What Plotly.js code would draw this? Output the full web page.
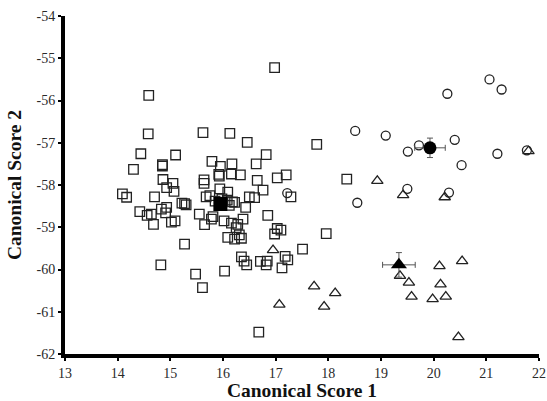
<!DOCTYPE html>
<html>
<head>
<meta charset="utf-8">
<script src="https://cdn.plot.ly/plotly-3.0.1.min.js"></script>
<style>html,body{margin:0;padding:0;background:#fff;}#chart{width:547px;height:401px;}</style>
</head>
<body>
<div id="chart"></div>
<script>
// Group 1 (open squares)
const squaresX = [16.98,14.59,14.58,15.62,16.13,16.46,17.78,14.44,15.10,14.30,14.85,14.85,15.79,15.95,16.17,16.63,16.82,15.92,15.93,16.16,16.33,16.65,17.03,17.20,14.86,15.05,15.07,14.93,15.64,15.64,15.94,16.09,16.50,16.76,15.75,14.70,17.29,18.35,16.43,16.22,15.27,15.22,15.30,14.83,14.93,14.91,14.64,14.68,14.42,14.09,14.17,15.02,15.09,15.55,15.81,15.78,15.65,16.02,16.16,16.28,16.38,16.85,17.03,17.10,16.98,15.27,16.09,16.22,16.31,16.35,16.25,17.96,17.51,17.18,17.23,17.12,16.35,16.40,16.45,16.71,16.84,16.82,15.48,15.61,16.03,14.82,16.68,16.08,16.18,15.85,15.98,16.12,15.68,16.60,14.56];
const squaresY = [-55.22,-55.88,-56.79,-56.76,-56.78,-56.99,-57.04,-57.26,-57.29,-57.63,-57.52,-57.55,-57.44,-57.56,-57.50,-57.50,-57.28,-57.75,-57.79,-57.74,-57.76,-57.89,-57.83,-57.76,-57.87,-57.96,-58.15,-58.06,-57.88,-57.96,-58.09,-58.17,-58.28,-58.12,-58.25,-58.28,-58.28,-57.86,-58.53,-58.41,-58.44,-58.43,-58.47,-58.57,-58.53,-58.66,-58.69,-58.93,-58.63,-58.21,-58.29,-58.88,-58.85,-58.69,-58.75,-58.81,-58.94,-58.85,-58.90,-58.93,-58.81,-58.72,-59.03,-59.07,-59.16,-59.40,-59.24,-59.28,-59.18,-59.26,-59.01,-59.15,-59.52,-59.69,-59.77,-59.96,-59.70,-59.80,-59.89,-59.81,-59.80,-59.89,-60.11,-60.43,-60.04,-59.89,-61.48,-58.36,-58.40,-58.38,-58.33,-58.48,-58.28,-58.30,-58.72];
// Group 2 (open circles)
const circlesX = [18.51,19.09,19.51,19.72,20.26,20.40,21.06,21.29,21.21,20.53,21.77,19.50,20.29,17.22,18.55];
const circlesY = [-56.72,-56.83,-57.21,-57.06,-55.84,-56.93,-55.50,-55.74,-57.26,-57.53,-57.18,-58.09,-58.18,-58.19,-58.42];
// Group 3 (open triangles)
const trianglesX = [18.93,19.42,20.21,21.80,16.95,19.36,19.53,20.11,20.54,20.13,19.58,19.98,20.23,17.73,18.13,17.92,17.07,20.47];
const trianglesY = [-57.90,-58.24,-58.29,-57.20,-59.54,-60.15,-60.31,-59.92,-59.80,-60.35,-60.64,-60.70,-60.64,-60.40,-60.56,-60.88,-60.83,-61.60];
// Group means with error bars
const meanSquare = {x: [15.95], y: [-58.45]};
const meanCircle = {x: [19.93], y: [-57.12], ex: [0.29], ey: [0.23]};
const meanTriangle = {x: [19.34], y: [-59.89], ex: [0.31], ey: [0.29]};
const xTicks = [13,14,15,16,17,18,19,20,21,22];
const yTicks = [-62,-61,-60,-59,-58,-57,-56,-55,-54];

const edge = '#222';
const traces = [
  {type:'scatter', mode:'markers', x:squaresX, y:squaresY, cliponaxis:false,
   marker:{symbol:'square-open', size:9.5, color:edge, line:{width:1.3, color:edge}}},
  {type:'scatter', mode:'markers', x:circlesX, y:circlesY, cliponaxis:false,
   marker:{symbol:'circle-open', size:9, color:edge, line:{width:1.3, color:edge}}},
  {type:'scatter', mode:'markers', x:trianglesX, y:trianglesY, cliponaxis:false,
   marker:{symbol:'triangle-up-open', size:10, color:edge, line:{width:1.3, color:edge}}},
  {type:'scatter', mode:'markers', x:meanSquare.x, y:meanSquare.y,
   marker:{symbol:'square', size:14, color:'#000'}},
  {type:'scatter', mode:'markers', x:meanCircle.x, y:meanCircle.y,
   error_x:{type:'data', array:meanCircle.ex, color:'#555', thickness:1, width:3},
   error_y:{type:'data', array:meanCircle.ey, color:'#555', thickness:1, width:3},
   marker:{symbol:'circle', size:13, color:'#000'}},
  {type:'scatter', mode:'markers', x:meanTriangle.x, y:meanTriangle.y,
   error_x:{type:'data', array:meanTriangle.ex, color:'#555', thickness:1, width:3},
   error_y:{type:'data', array:meanTriangle.ey, color:'#555', thickness:1, width:3},
   marker:{symbol:'triangle-up', size:14, color:'#000'}}
];

const tickFont = {family:'Liberation Serif, Times New Roman, serif', size:14, color:'#2a2a2a'};
const titleFont = {family:'Liberation Serif, Times New Roman, serif', size:19.5, color:'#111', weight:'bold'};

const layout = {
  width:547, height:401,
  margin:{l:65, r:8, t:16, b:47},
  paper_bgcolor:'#fff', plot_bgcolor:'#fff',
  showlegend:false,
  xaxis:{range:[13,22], tickvals:xTicks, ticktext:xTicks.map(String), showgrid:false, zeroline:false,
    showline:true, linecolor:'#000', linewidth:4, ticks:'outside', ticklen:3, tickwidth:2, tickcolor:'#000',
    tickfont:tickFont, title:{text:'<b>Canonical Score 1</b>', font:titleFont, standoff:7}},
  yaxis:{range:[-62,-54], tickvals:yTicks, ticktext:yTicks.map(String), showgrid:false, zeroline:false,
    showline:true, linecolor:'#000', linewidth:4, ticks:'outside', ticklen:3, tickwidth:2, tickcolor:'#000',
    tickfont:tickFont, title:{text:'<b>Canonical Score 2</b>', font:titleFont, standoff:11}}
};

Plotly.newPlot('chart', traces, layout, {displayModeBar:false, staticPlot:true});
</script>
</body>
</html>
